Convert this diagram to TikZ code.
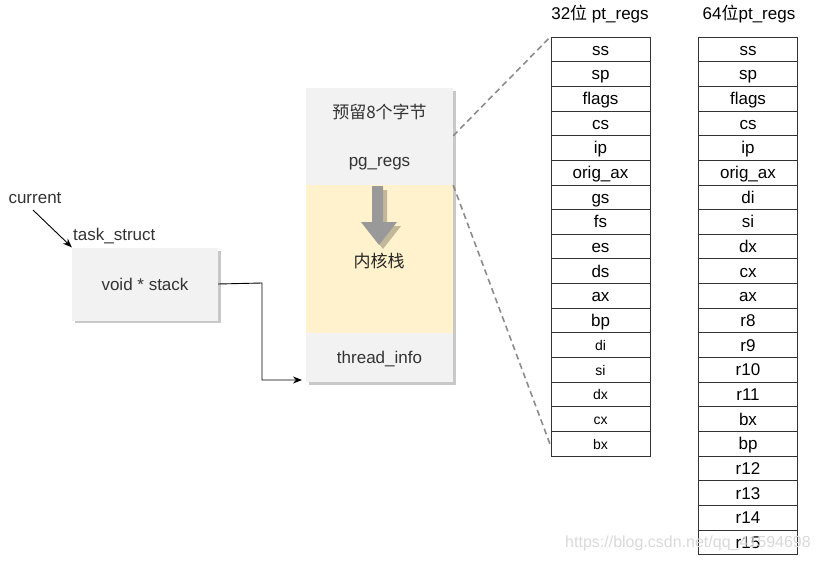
\documentclass[tikz,border=0pt]{standalone}
\usepackage{fontspec}
\setmainfont{Liberation Sans}
\newfontfamily\cjk{Noto Sans CJK SC}
\usetikzlibrary{arrows.meta,calc}
\definecolor{boxgray}{HTML}{F2F2F2}
\definecolor{shadowgray}{HTML}{C8C8C8}
\definecolor{stackyellow}{HTML}{FFF2CC}
\definecolor{arrowgray}{HTML}{999999}
\definecolor{arrowshadow}{HTML}{C2B799}
\definecolor{textgray}{HTML}{333333}
\begin{document}
\begin{tikzpicture}[x=1pt,y=-1pt,
  lbl/.style={font=\fontsize{17}{19}\selectfont, text=textgray},
  cell/.style={fill=boxgray, minimum width=147pt, inner sep=0pt, text height=13.5pt, text depth=1.5pt, font=\fontsize{17}{19}\selectfont, text=textgray},
  reg/.style={draw=black!80, line width=0.8pt, fill=white, minimum width=99pt, minimum height=24.65pt, inner sep=0pt, text height=13.5pt, text depth=1.5pt, font=\fontsize{17}{19}\selectfont},
  regsmall/.style={reg, text height=12.5pt, text depth=1.5pt, font=\fontsize{14}{16}\selectfont},
  link/.style={-{Stealth[length=9pt,width=7pt]}, line width=0.9pt, black},
  dashlink/.style={draw=gray!90, line width=1.6pt, dash pattern=on 6pt off 4pt},
  title/.style={font=\fontsize{17}{19}\selectfont}
]
\useasboundingbox (0,0) rectangle (820,562);

% left part
\node[lbl, anchor=center] (cur) at (35,198) {current};
\node[lbl, anchor=west, inner sep=0pt] (ts) at (73,236) {task\_struct};
\fill[shadowgray] (75,251) rectangle (221,323);
\node[fill=boxgray, minimum width=146pt, minimum height=73pt, inner sep=0pt, text height=13.5pt, text depth=1.5pt, font=\fontsize{17}{19}\selectfont, text=textgray] (vs) at (145,284) {void * stack};
\coordinate (curtail) at (33,210);
\draw[link] (curtail) -- (vs.north west);

% middle column
\fill[shadowgray] (309,91) rectangle (456,385);
\node[cell, minimum height=48pt] (res) at (379.5,112) {\cjk 预留8个字节};
\node[cell, minimum height=49pt] (pg) at (379.5,160.5) {pg\_regs};
\node[cell, fill=stackyellow, minimum height=148pt] (ks) at (379.5,259) {};
\node[cell, minimum height=49pt] (ti) at (379.5,357.5) {thread\_info};
\node[font=\cjk\fontsize{17}{19}\selectfont, text=black!85] (kslabel) at (379,261) {内核栈};
% gray arrow
\fill[arrowshadow] (376,190) -- (387,190) -- (387,226) -- (401,226) -- (383,249) -- (365,226) -- (376,226) -- cycle;
\fill[arrowgray] (372,186) -- (383,186) -- (383,222) -- (397,222) -- (379,245) -- (361,222) -- (372,222) -- cycle;

% connector from void * stack to thread_info
\coordinate (tiin) at (302,380);
\draw[link] (vs.east) -- (262,283) |- (tiin);

% 32-bit table
\node[title] (t32) at (600,14) {32{\cjk 位} pt\_regs};
\foreach \t [count=\i] in {ss,sp,flags,cs,ip,orig\_ax,gs,fs,es,ds,ax,bp}
  \node[reg] (a\i) at (600.5,{37+24.65*(\i-0.5)}) {\t};
\foreach \t [count=\i from 13] in {di,si,dx,cx,bx}
  \node[regsmall] (a\i) at (600.5,{37+24.65*(\i-0.5)}) {\t};

% 64-bit table
\node[title] (t64) at (749,14) {64{\cjk 位}pt\_regs};
\foreach \t [count=\i] in {ss,sp,flags,cs,ip,orig\_ax,di,si,dx,cx,ax,r8,r9,r10,r11,bx,bp,r12,r13,r14,r15}
  \node[reg] (b\i) at (748,{37+24.65*(\i-0.5)}) {\t};

% dashed zoom lines
\draw[dashlink] (pg.north east) -- (a1.north west);
\draw[dashlink] (pg.south east) -- ($(a17.west)+(0,2)$);

% watermark
\node[font=\fontsize{16}{18}\selectfont, text=gray!30, anchor=center] (wm) at (688,543) {https://blog.csdn.net/qq\_41594698};
\end{tikzpicture}
\end{document}
